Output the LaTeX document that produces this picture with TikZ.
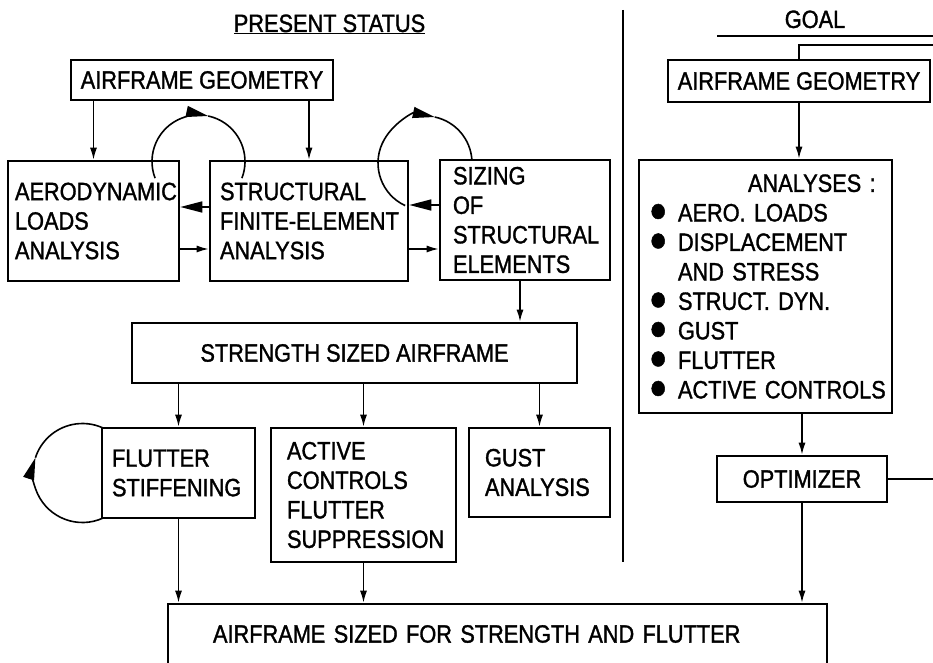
\documentclass[tikz,border=0pt]{standalone}
\usepackage{fontspec}
\setmainfont{Liberation Sans}[FakeStretch=0.87, FakeBold=1.3]
\usetikzlibrary{arrows.meta}

\newcommand\dotitem{\makebox[25pt][l]{\hspace*{-4pt}\scalebox{1.4}{●}}}
\newcommand\boxfont{\fontsize{25}{29.5}\selectfont\hyphenpenalty=10000 \exhyphenpenalty=10000 }

\begin{document}
\begin{tikzpicture}[x=10pt, y=10pt,
  box/.style={draw, line width=2.6pt, inner sep=0pt, font=\boxfont},
  arr/.style={line width=1.6pt, -{Latex[length=12pt,width=7pt]}},
  bigarr/.style={line width=1.6pt, -{Triangle[length=22pt,width=11pt]}},
  wire/.style={line width=1.6pt},
  title/.style={font=\boxfont, inner sep=0pt, anchor=base}]
  \useasboundingbox (0,0) rectangle (93.3,66.2);

  % headings and divider
  \node[title] (present) at (32.95,63.0) {\underline{PRESENT STATUS}};
  \node[title] (goal) at (81.5,63.4) {GOAL};
  \draw[wire] (71.7,62.6) -- (93.3,62.6);
  \draw[line width=1.5pt] (62.3,65.2) -- (62.3,10.0);

  % present status
  \node[box, minimum width=262pt, minimum height=40pt] (geoL) at (20.2,58.2) {AIRFRAME GEOMETRY};
  \node[box, align=left, text width=157pt, inner xsep=7pt, minimum height=120pt] (aero) at (9.35,44.1) {AERODYNAMIC\\LOADS\\ANALYSIS};
  \node[box, align=left, text width=178pt, inner xsep=10pt, minimum height=120pt] (struct) at (30.9,44.1) {STRUCTURAL\\FINITE-ELEMENT\\ANALYSIS};
  \node[box, align=left, text width=144pt, inner xsep=13pt, minimum height=120pt] (sizing) at (52.5,44.2) {SIZING\\OF\\STRUCTURAL\\ELEMENTS};
  \node[box, minimum width=445pt, minimum height=60pt] (strength) at (35.45,30.9) {STRENGTH SIZED AIRFRAME};
  \node[box, align=left, text width=133pt, inner xsep=10pt, minimum height=90pt] (flutter) at (17.85,18.9) {FLUTTER\\STIFFENING};
  \node[box, align=left, text width=153pt, inner xsep=16pt, minimum height=134pt] (active) at (36.35,16.7) {ACTIVE\\CONTROLS\\FLUTTER\\SUPPRESSION};
  \node[box, align=left, text width=109pt, inner xsep=16pt, minimum height=89pt] (gust) at (53.95,18.95) {GUST\\ANALYSIS};
  \node[box, align=left, text width=569pt, inner xsep=45pt, minimum height=60pt] (final) at (49.75,2.8) {AIRFRAME SIZED FOR STRENGTH AND FLUTTER};

  % goal
  \node[box, minimum width=262pt, minimum height=42pt] (geoR) at (79.9,58.1) {AIRFRAME GEOMETRY};
  \node[box, align=left, text width=225pt, inner xsep=14pt, minimum height=253pt] (ana) at (76.55,37.55)
    {\hspace*{95pt}ANALYSES~:\\ \dotitem AERO.~LOADS\\ \dotitem DISPLACEMENT\\ \hspace*{25pt}AND~STRESS\\
     \dotitem STRUCT.~DYN.\\ \dotitem GUST\\ \dotitem FLUTTER\\ \dotitem ACTIVE~CONTROLS};
  \node[box, minimum width=170pt, minimum height=46pt] (opt) at (80.2,18.3) {OPTIMIZER};

  % connectors
  \draw[arr] (aero.north |- geoL.south) -- (aero.north);
  \draw[arr] (struct.north |- geoL.south) -- (struct.north);
  \draw[arr] ([yshift=-28pt]aero.east) -- ([yshift=-28pt]aero.east -| struct.west);
  \draw[arr] ([yshift=-28pt]struct.east) -- ([yshift=-28pt]struct.east -| sizing.west);
  \draw[bigarr] ([yshift=14pt]struct.west) -- ([yshift=14pt]struct.west -| aero.east);
  \draw[bigarr] ([yshift=15pt]sizing.west) -- ([yshift=15pt]sizing.west -| struct.east);
  \draw[arr] ([xshift=-5pt]sizing.south) -- ([xshift=-5pt]sizing.south |- strength.north);
  \draw[arr] (flutter.north |- strength.south) -- (flutter.north);
  \draw[arr] (active.north |- strength.south) -- (active.north);
  \draw[arr] (gust.north |- strength.south) -- (gust.north);
  \draw[arr] (flutter.south) -- (flutter.south |- final.north);
  \draw[arr] (active.south) -- (active.south |- final.north);
  \draw[arr] (geoR.south) -- (geoR.south |- ana.north);
  \draw[arr] (opt.north |- ana.south) -- (opt.north);
  \draw[arr] (opt.south) -- (opt.south |- final.north);
  \coordinate (edge) at (93.6,61.7);
  \draw[wire] (opt.east) -- (opt.east -| edge) -- (edge) -- (edge -| geoR.north) -- (geoR.north);

  % iteration loops
  \coordinate (c1) at (19.85,50.05);
  \coordinate (c2) at (42.5,49.9);
  \coordinate (c3) at (8.25,18.9);
  \draw[bigarr] (c1) ++(201:46.5pt) arc[start angle=201, end angle=78, radius=46.5pt];
  \draw[wire] (c1) ++(78:46.5pt) arc[start angle=78, end angle=-21, radius=46.5pt];
  \draw[bigarr] (c2) ++(245:47pt) arc[start angle=245, end angle=78, radius=47pt];
  \draw[wire] (c2) ++(78:47pt) arc[start angle=78, end angle=3, radius=47pt];
  \draw[bigarr] (c3) ++(294.5:49.5pt) arc[start angle=294.5, end angle=162, radius=49.5pt];
  \draw[wire] (c3) ++(162:49.5pt) arc[start angle=162, end angle=65.5, radius=49.5pt];
\end{tikzpicture}
\end{document}
